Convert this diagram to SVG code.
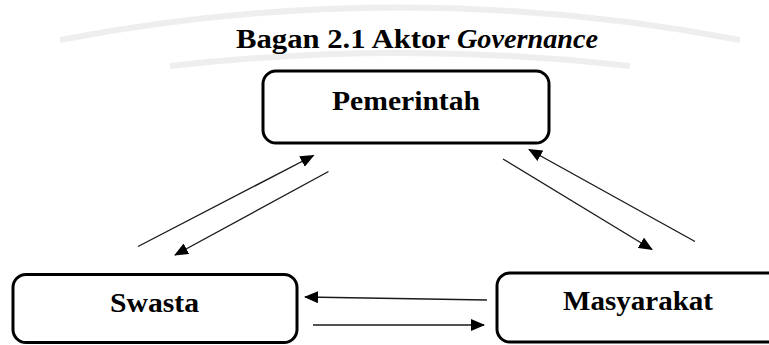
<svg xmlns="http://www.w3.org/2000/svg" width="769" height="345" viewBox="0 0 769 345">
  <style>
    .box { fill: #ffffff; stroke: #000000; stroke-width: 3; }
    .lbl { font-family: "Liberation Serif", "Times New Roman", serif; font-weight: bold; font-size: 27px; fill: #000000; }
    .conn { stroke: #1a1a1a; stroke-width: 1.4; fill: none; marker-end: url(#ah); }
    .wm { fill: none; stroke: #eeeeee; stroke-width: 6; }
  </style>
  <defs>
    <marker id="ah" markerWidth="14" markerHeight="12" refX="13" refY="6" orient="auto" markerUnits="userSpaceOnUse">
      <path d="M0,0 L14,6 L0,12 Z" fill="#000000"/>
    </marker>
  </defs>
  <rect x="0" y="0" width="769" height="345" fill="#ffffff"/>
  <g id="watermark">
    <path class="wm" d="M60,40 Q400,-25 740,40"/>
    <path class="wm" d="M170,66 Q400,40 630,66"/>
  </g>
  <g id="title">
    <text class="lbl" y="48"><tspan x="236" textLength="214" lengthAdjust="spacingAndGlyphs">Bagan 2.1 Aktor</tspan><tspan x="457" font-style="italic" textLength="141" lengthAdjust="spacingAndGlyphs">Governance</tspan></text>
  </g>
  <g id="pemerintah">
    <rect class="box" x="263" y="71" width="286" height="72" rx="13"/>
    <text class="lbl" x="332" y="110" font-size="28" textLength="148" lengthAdjust="spacingAndGlyphs">Pemerintah</text>
  </g>
  <g id="swasta">
    <rect class="box" x="13" y="274.5" width="284" height="68" rx="13"/>
    <text class="lbl" x="110" y="312" font-size="28" textLength="89" lengthAdjust="spacingAndGlyphs">Swasta</text>
  </g>
  <g id="masyarakat">
    <rect class="box" x="497" y="273" width="290" height="69" rx="13"/>
    <text class="lbl" x="563" y="310" font-size="28" textLength="150" lengthAdjust="spacingAndGlyphs">Masyarakat</text>
  </g>
  <g id="connectors">
    <line class="conn" x1="138" y1="246.5" x2="313.5" y2="155.5"/>
    <line class="conn" x1="328.5" y1="171.5" x2="175" y2="255"/>
    <line class="conn" x1="503" y1="159" x2="652" y2="249.5"/>
    <line class="conn" x1="695" y1="241.5" x2="529" y2="149.5"/>
    <line class="conn" x1="487" y1="300" x2="305" y2="297"/>
    <line class="conn" x1="313" y1="325" x2="484" y2="325"/>
  </g>
</svg>
